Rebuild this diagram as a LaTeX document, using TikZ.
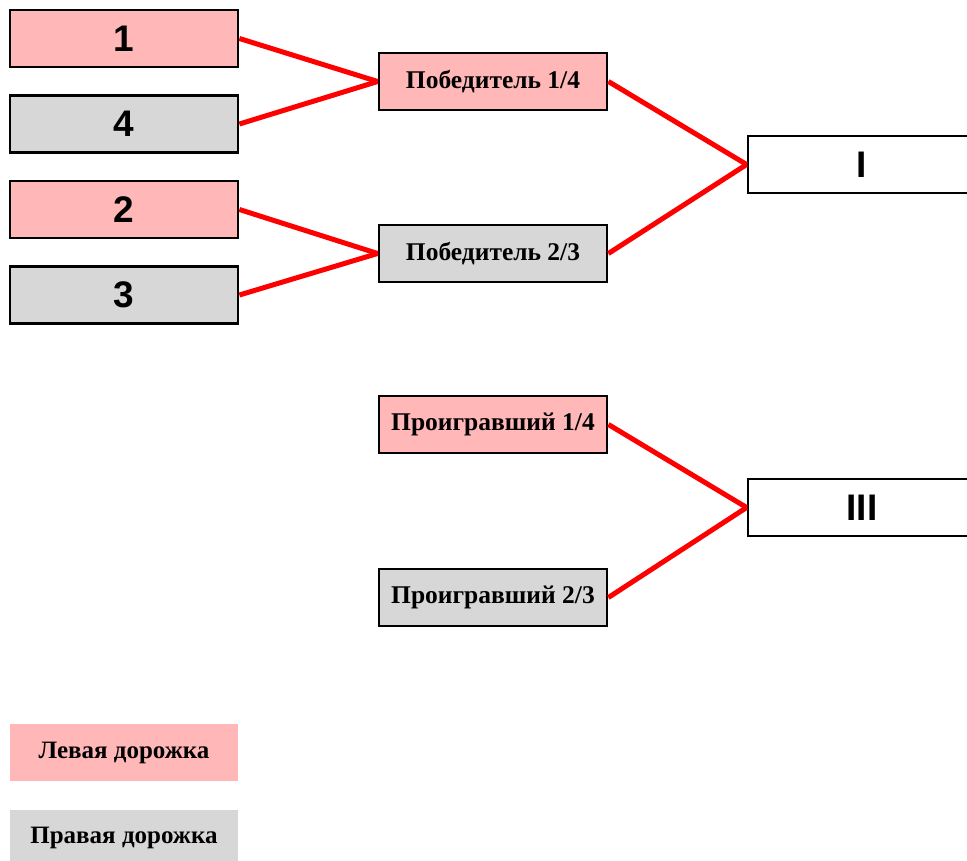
\documentclass[tikz,border=0pt]{standalone}
\usepackage{fontspec}
\setmainfont{Liberation Serif}
\newfontfamily\arialfont{Liberation Sans}
\definecolor{leftpink}{RGB}{255,183,183}
\definecolor{rightgray}{RGB}{215,215,215}
\begin{document}
\begin{tikzpicture}[x=1pt, y=-1pt,
  box/.style={draw=black, line width=2.8pt, minimum width=228pt, minimum height=57pt, inner sep=0pt},
  numbox/.style={box, font=\arialfont\bfseries\fontsize{37}{37}\selectfont},
  lblbox/.style={box, font=\bfseries\fontsize{25.5}{25.5}\selectfont},
  legend/.style={minimum width=228pt, minimum height=57pt, inner sep=0pt, font=\bfseries\fontsize{25}{25}\selectfont},
  link/.style={red, line width=5pt}] % {{{
\useasboundingbox (0,0) rectangle (967,861);
% Quarter finals {{{
\node[numbox, fill=leftpink]  (n1) at (124,38.5) {1};
\node[numbox, fill=rightgray] (n4) at (124,124) {4};
\node[numbox, fill=leftpink]  (n2) at (124,209.5) {2};
\node[numbox, fill=rightgray] (n3) at (124,295) {3};
% }}}
% Semi finals {{{
\node[lblbox, fill=leftpink]  (win14) at (493,81.5) {Победитель 1/4};
\node[lblbox, fill=rightgray] (win23) at (493,253.5) {Победитель 2/3};
\node[lblbox, fill=leftpink]  (los14) at (493,424.5) {Проигравший 1/4};
\node[lblbox, fill=rightgray] (los23) at (493,597.5) {Проигравший 2/3};
% }}}
% Places {{{
\node[numbox, fill=white] (first) at (862,164.5) {I};
\node[numbox, fill=white] (third) at (862,507.5) {III};
% }}}
% Legend {{{
\node[legend, fill=leftpink]  (legleft)  at (124,752.5) {Левая дорожка};
\node[legend, fill=rightgray] (legright) at (124,838) {Правая дорожка};
% }}}
\foreach \a/\b in {n1/win14, n4/win14, n2/win23, n3/win23, win14/first, win23/first, los14/third, los23/third} {
  \draw[link] (\a.east) -- (\b.west);
}
\end{tikzpicture}
\end{document}
